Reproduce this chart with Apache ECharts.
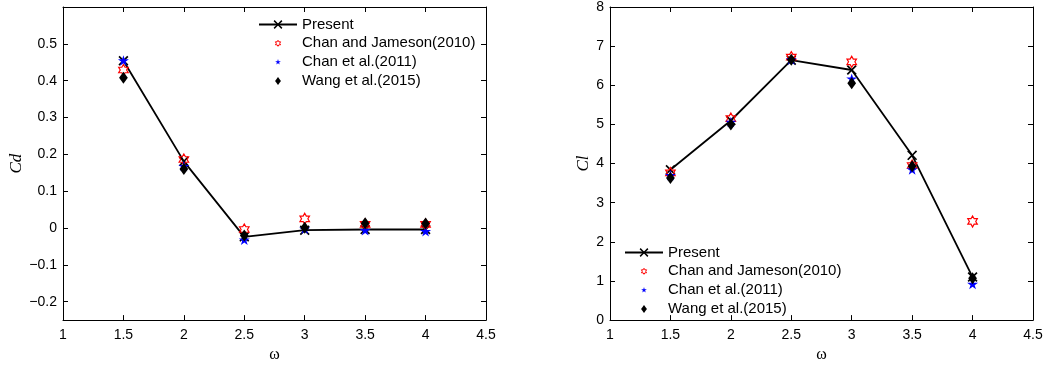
<!DOCTYPE html>
<html>
<head>
<meta charset="utf-8">
<script src="https://cdn.jsdelivr.net/npm/echarts@6/dist/echarts.min.js"></script>
<style>html,body{margin:0;padding:0;background:#fff;}#c{width:1048px;height:368px;}</style>
</head>
<body>
<div id="c"></div>
<script>
// ---- data ----
const omega = [1.5, 2, 2.5, 3, 3.5, 4];
const xTicks = [1, 1.5, 2, 2.5, 3, 3.5, 4, 4.5];

const cdPresent      = [0.454, 0.181, -0.024, -0.006, -0.004, -0.004];
const cdChanJameson  = [0.429, 0.186, -0.004, 0.025, 0.010, 0.010];
const cdChan         = [0.455, 0.168, -0.032, -0.002, -0.006, -0.009];
const cdWang         = [0.408, 0.160, -0.020, 0.001, 0.013, 0.012];
const cdTicks = [-0.2, -0.1, 0, 0.1, 0.2, 0.3, 0.4, 0.5];

const clPresent      = [3.84, 5.10, 6.64, 6.39, 4.21, 1.10];
const clChanJameson  = [3.76, 5.15, 6.72, 6.60, 3.95, 2.52];
const clChan         = [3.70, 5.06, 6.66, 6.17, 3.85, 0.92];
const clWang         = [3.63, 5.00, 6.65, 6.05, 3.93, 1.07];
const clTicks = [0, 1, 2, 3, 4, 5, 6, 7, 8];

const seriesNames = ['Present', 'Chan and Jameson(2010)', 'Chan et al.(2011)', 'Wang et al.(2015)'];

// ---- styling helpers ----
const X_PATH = 'path://M0,1.2L1.2,0L5,3.8L8.8,0L10,1.2L6.2,5L10,8.8L8.8,10L5,6.2L1.2,10L0,8.8L3.8,5Z';
const HEX = 'M50,0L64.43,25L93.3,25L78.87,50L93.3,75L64.43,75L50,100L35.57,75L6.7,75L21.13,50L6.7,25L35.57,25Z';
const PENT = 'M50,0L61.23,34.55L97.55,34.55L68.17,55.9L79.39,90.45L50,69.1L20.61,90.45L31.83,55.9L2.45,34.55L38.77,34.55Z';
const DIA = 'M4,0L8,5.5L4,11L0,5.5Z';
const HEX_PATH = 'path://' + HEX;
const PENT_PATH = 'path://' + PENT;
const DIA_PATH = 'path://' + DIA;
// legend icons: same shapes, padded so they draw smaller inside the legend box
const HEX_ICON = 'path://M-42,-42M142,142' + HEX;
const PENT_ICON = 'path://M-42,-42M142,142' + PENT;
const DIA_ICON = 'path://M-3.55,-2.05M11.55,13.05' + DIA;

const tickFont = {fontFamily: 'Liberation Sans, Arial, sans-serif', fontSize: 14, color: '#000'};
const minus = v => String(v).replace('-', '\u2212');

function pairs(xs, ys) { return xs.map((x, i) => [x, ys[i]]); }

function axesFor(gi, yMin, yMax, yTicks, yName, yNameGap) {
  const line = {show: true, onZero: false, lineStyle: {color: '#000', width: 1}};
  const tick = {show: true, inside: true, length: 5, lineStyle: {color: '#000', width: 1}};
  const xCommon = {type: 'value', gridIndex: gi, min: 1, max: 4.5, interval: 0.5,
    splitLine: {show: false}, axisLine: line};
  const yCommon = {type: 'value', gridIndex: gi, min: yMin, max: yMax,
    splitLine: {show: false}, axisLine: line};
  const yTick = Object.assign({}, tick, {customValues: yTicks});
  return {
    x: [
      Object.assign({}, xCommon, {position: 'bottom', axisTick: tick,
        axisLabel: Object.assign({show: true, margin: 8, formatter: v => minus(v)}, tickFont),
        name: '\u03c9', nameLocation: 'middle', nameGap: 26,
        nameTextStyle: {fontFamily: 'Liberation Serif, DejaVu Serif, serif', fontSize: 16, color: '#000'}}),
      Object.assign({}, xCommon, {position: 'top', axisTick: tick, axisLabel: {show: false}})
    ],
    y: [
      Object.assign({}, yCommon, {position: 'left', axisTick: yTick,
        axisLabel: Object.assign({show: true, margin: 6, customValues: yTicks, formatter: v => minus(v)}, tickFont),
        name: yName, nameLocation: 'middle', nameRotate: 90, nameGap: yNameGap,
        nameTextStyle: {fontFamily: 'Liberation Serif, DejaVu Serif, serif', fontStyle: 'italic', fontSize: 17, color: '#000'}}),
      Object.assign({}, yCommon, {position: 'right', axisTick: yTick, axisLabel: {show: false}})
    ]
  };
}

function seriesFor(axOff, present, cj, chan, wang) {
  const xi = axOff, yi = axOff;
  return [
    {name: seriesNames[0], type: 'line', xAxisIndex: xi, yAxisIndex: yi, data: pairs(omega, present),
      lineStyle: {color: '#000', width: 1.8}, itemStyle: {color: '#000', opacity: 1},
      symbol: X_PATH, symbolSize: 10, showAllSymbol: true, z: 2, animation: false},
    {name: seriesNames[1], type: 'scatter', xAxisIndex: xi, yAxisIndex: yi, data: pairs(omega, cj),
      symbol: HEX_PATH, symbolSize: 11, symbolKeepAspect: true,
      itemStyle: {color: 'rgba(255,255,255,0)', borderColor: '#ff0000', borderWidth: 1.2, opacity: 1}, z: 3, animation: false},
    {name: seriesNames[2], type: 'scatter', xAxisIndex: xi, yAxisIndex: yi, data: pairs(omega, chan),
      symbol: PENT_PATH, symbolSize: 11, symbolKeepAspect: true,
      itemStyle: {color: '#0000ff', opacity: 1}, z: 4, animation: false},
    {name: seriesNames[3], type: 'scatter', xAxisIndex: xi, yAxisIndex: yi, data: pairs(omega, wang),
      symbol: DIA_PATH, symbolSize: 12, symbolKeepAspect: true,
      itemStyle: {color: '#000', opacity: 1}, z: 5, animation: false}
  ];
}

const A = axesFor(0, -0.25, 0.6, cdTicks, 'Cd', 36);
const B = axesFor(1, 0, 8, clTicks, 'Cl', 16);

function legendAt(left, top) {
  return {
    orient: 'vertical', left: left, top: top, itemWidth: 38, itemHeight: 11, itemGap: 2.8,
    padding: 0, selectedMode: false,
    textStyle: {fontFamily: 'Liberation Sans, Arial, sans-serif', fontSize: 15, color: '#000', lineHeight: 16},
    data: [
      {name: seriesNames[0]},
      {name: seriesNames[1], icon: HEX_ICON,
        itemStyle: {color: 'rgba(255,255,255,0)', borderColor: '#ff0000', borderWidth: 1, opacity: 1}},
      {name: seriesNames[2], icon: PENT_ICON, itemStyle: {color: '#0000ff', opacity: 1}},
      {name: seriesNames[3], icon: DIA_ICON, itemStyle: {color: '#000', opacity: 1}}
    ]
  };
}

const chart = echarts.init(document.getElementById('c'), null, {renderer: 'canvas'});
chart.setOption({
  animation: false,
  backgroundColor: '#fff',
  grid: [
    {left: 63, top: 7, width: 423, height: 317},
    {left: 610, top: 7, width: 423, height: 317}
  ],
  xAxis: [A.x[0], A.x[1], Object.assign(B.x[0], {gridIndex: 1}), Object.assign(B.x[1], {gridIndex: 1})],
  yAxis: [A.y[0], A.y[1], Object.assign(B.y[0], {gridIndex: 1}), Object.assign(B.y[1], {gridIndex: 1})],
  legend: [legendAt(258, 16.5), legendAt(624, 244.5)],
  series: [].concat(
    seriesFor(0, cdPresent, cdChanJameson, cdChan, cdWang),
    seriesFor(2, clPresent, clChanJameson, clChan, clWang)
  )
});
</script>
</body>
</html>
